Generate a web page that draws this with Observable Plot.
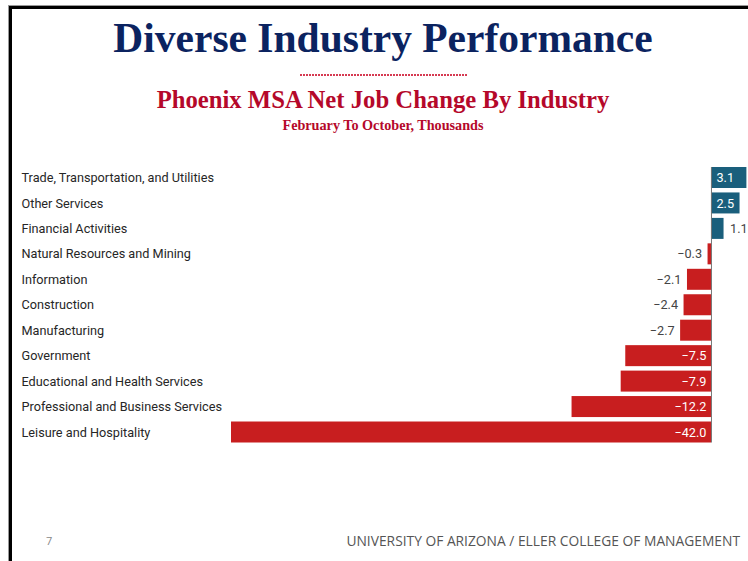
<!DOCTYPE html>
<html>
<head>
<meta charset="utf-8">
<script src="https://cdn.jsdelivr.net/npm/d3@7"></script>
<script src="https://cdn.jsdelivr.net/npm/@observablehq/plot@0.6"></script>
<style>
  html, body { margin: 0; padding: 0; background: #fff; }
  #page { position: relative; width: 748px; height: 561px; overflow: hidden; background: #fff; }
  #frame { position: absolute; left: 9px; top: 6px; width: 800px; height: 600px; border-left: 3px solid #000; border-top: 3px solid #000; box-shadow: -1px -1px 0 #999; }
  .serif { font-family: "Liberation Serif", "Times New Roman", serif; font-weight: bold; position: absolute; left: 0; width: 766px; text-align: center; white-space: nowrap; }
  #title { top: 14px; font-size: 41.5px; color: #0b2360; }
  #rule { position: absolute; left: 300px; top: 74px; width: 168px; height: 1.5px; background: repeating-linear-gradient(to right, #d63a52 0 2px, transparent 2px 3px); }
  #subtitle { top: 86px; font-size: 24.7px; color: #b5082a; }
  #subsub { top: 117px; font-size: 14.2px; color: #b5082a; }
  #chart { position: absolute; left: 0; top: 150px; }
  #pagenum { position: absolute; left: 46px; top: 533px; font-family: "Open Sans", sans-serif; font-size: 11px; color: #888; }
  #footer { position: absolute; right: 8px; top: 531px; font-family: "Open Sans", sans-serif; font-size: 13.8px; color: #555; }
</style>
</head>
<body>
<div id="page">
  <div id="frame"></div>
  <div id="title" class="serif">Diverse Industry Performance</div>
  <div id="rule"></div>
  <div id="subtitle" class="serif">Phoenix MSA Net Job Change By Industry</div>
  <div id="subsub" class="serif">February To October, Thousands</div>
  <div id="chart"></div>
  <div id="pagenum">7</div>
  <div id="footer">UNIVERSITY OF ARIZONA / ELLER COLLEGE OF MANAGEMENT</div>
</div>
<script>
const industries = [
  "Trade, Transportation, and Utilities",
  "Other Services",
  "Financial Activities",
  "Natural Resources and Mining",
  "Information",
  "Construction",
  "Manufacturing",
  "Government",
  "Educational and Health Services",
  "Professional and Business Services",
  "Leisure and Hospitality"
];
const jobChange = [3.1, 2.5, 1.1, -0.3, -2.1, -2.4, -2.7, -7.5, -7.9, -12.2, -42.0];

const data = industries.map((name, i) => ({name, value: jobChange[i]}));
const fmt = d3.format(".1f");
const label = d => fmt(d.value).replace("-", "\u2212");
const inside = d => Math.abs(d.value) >= 2.5 && !(d.value < 0 && d.value > -3);

const blue = "#1a5f7c";
const red = "#c81e1f";

const chart = Plot.plot({
  width: 748,
  height: 300,
  marginLeft: 231,
  marginRight: 1.6,
  marginTop: 17,
  marginBottom: 7.5,
  style: {fontFamily: "Roboto, sans-serif", fontSize: "12.7px", background: "transparent"},
  x: {domain: [-42, 3.1], axis: null},
  y: {domain: industries, axis: null, paddingInner: 0.175, paddingOuter: 0, round: false},
  marks: [
    Plot.barX(data, {y: "name", x: "value", fill: d => d.value >= 0 ? blue : red}),
    Plot.ruleX([0], {stroke: "#777", strokeWidth: 1}),
    Plot.text(data, {y: "name", text: "name", frameAnchor: "left", dx: -210, textAnchor: "start", fill: "#262626"}),
    // labels inside bars
    Plot.text(data.filter(d => inside(d) && d.value > 0), {y: "name", x: 0, dx: 5, text: label, textAnchor: "start", fill: "#fff"}),
    Plot.text(data.filter(d => inside(d) && d.value < 0), {y: "name", x: 0, dx: -5, text: label, textAnchor: "end", fill: "#fff"}),
    // labels outside bars
    Plot.text(data.filter(d => !inside(d) && d.value > 0), {y: "name", x: "value", dx: 6, text: label, textAnchor: "start", fill: "#444"}),
    Plot.text(data.filter(d => !inside(d) && d.value < 0), {y: "name", x: "value", dx: -6, text: label, textAnchor: "end", fill: "#444"})
  ]
});
document.getElementById("chart").appendChild(chart);
</script>
</body>
</html>
